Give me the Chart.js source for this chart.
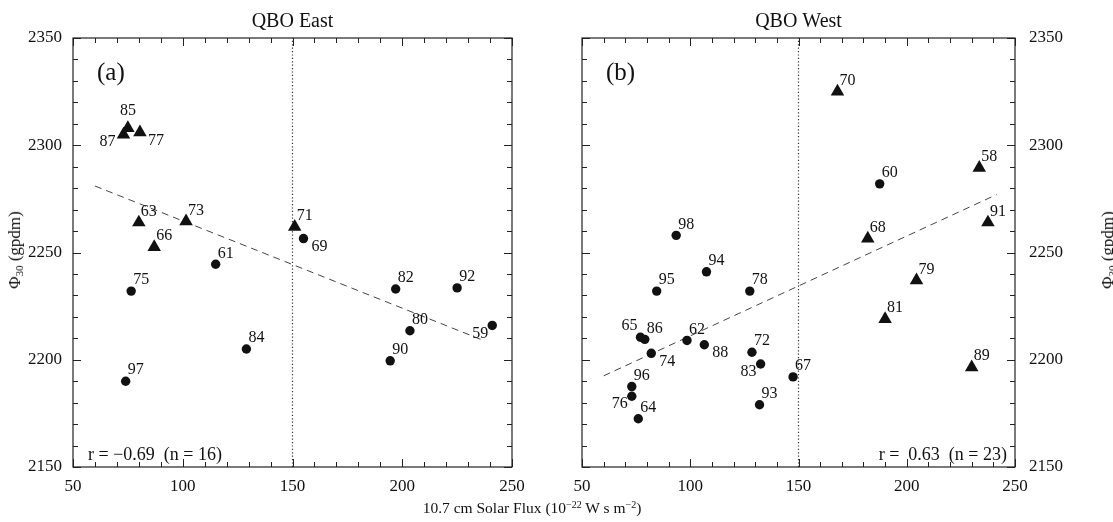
<!DOCTYPE html>
<html>
<head>
<meta charset="utf-8">
<script src="https://cdn.jsdelivr.net/npm/chart.js@4.4.1/dist/chart.umd.min.js"></script>
<style>
  html, body { margin:0; padding:0; background:#fff; }
  body { width:1113px; height:522px; position:relative; overflow:hidden; font-family:"Liberation Serif", "DejaVu Serif", serif; color:#111; }
  canvas { position:absolute; top:0; }
  .ytitle { position:absolute; font-size:17px; white-space:nowrap; transform:translate(-50%,-50%) rotate(-90deg); }
  .ytitle sub { font-size:11px; vertical-align:-3px; }
  .xtitle { position:absolute; left:532px; top:508px; font-size:15.5px; white-space:nowrap; transform:translate(-50%,-50%); }
  .xtitle sup { font-size:10px; vertical-align:5px; }
</style>
</head>
<body>
<canvas id="east" width="560" height="522" style="left:0px"></canvas>
<canvas id="west" width="553" height="522" style="left:560px"></canvas>
<div class="ytitle" style="left:15px; top:250px;">Φ<sub>30</sub> (gpdm)</div>
<div class="ytitle" style="left:1108px; top:250px;">Φ<sub>30</sub> (gpdm)</div>
<div class="xtitle">10.7 cm Solar Flux (10<sup>−22</sup> W s m<sup>−2</sup>)</div>
<script>
// ---------- DATA ----------
const xTicks = [50, 100, 150, 200, 250];
const yTicks = [2150, 2200, 2250, 2300, 2350];
const fluxDivider = 150;

// Panel (a) QBO East
const eastYears  = ['85','87','77','63','73','66','71','69','61','75','84','97','82','92','80','59','90'];
const eastFlux   = [75, 73, 80.5, 80, 101.5, 87, 151, 155, 115, 76.5, 129, 74, 197, 225, 203.5, 241, 194.5];
const eastPhi    = [2308, 2305, 2306, 2264, 2264.5, 2252.5, 2262, 2256.5, 2244.5, 2232, 2205, 2190, 2233, 2233.5, 2213.5, 2216, 2199.5];
const eastMarker = ['tri','tri','tri','tri','tri','tri','tri','dot','dot','dot','dot','dot','dot','dot','dot','dot','dot'];
const eastLabelAt= ['n','w','se','ne','ne','ne','ne','se','ne','ne','ne','ne','ne','ne','ne','sw','ne'];
const eastFitX   = [60, 237];
const eastFitY   = [2281, 2209];
const eastStat   = 'r = −0.69  (n = 16)';

// Panel (b) QBO West
const westYears  = ['70','58','60','91','68','98','94','95','78','79','81','65','86','62','88','74','72','83','67','89','96','76','93','64'];
const westFlux   = [168, 233.5, 187.5, 237.5, 182, 93.5, 107.5, 84.5, 127.5, 204.5, 190, 77, 79, 98.5, 106.5, 82, 128.5, 132.5, 147.5, 230, 73, 73, 132, 76];
const westPhi    = [2325, 2289.5, 2282, 2264, 2256.5, 2258, 2241, 2232, 2232, 2237, 2219, 2210.5, 2209.5, 2209, 2207, 2203, 2203.5, 2198, 2192, 2196.5, 2187.5, 2183, 2179, 2172.5];
const westMarker = ['tri','tri','dot','tri','tri','dot','dot','dot','dot','tri','tri','dot','dot','dot','dot','dot','dot','dot','dot','tri','dot','dot','dot','dot'];
const westLabelAt= ['ne','ne','ne','ne','ne','ne','ne','ne','ne','ne','ne','nw','ne','ne','se','se','ne','sw','ne','ne','ne','sw','ne','ne'];
const westFitX   = [60, 241.5];
const westFitY   = [2192.5, 2277];
const westStat   = 'r =  0.63  (n = 23)';

// ---------- STYLE ----------
const FONT = '"Liberation Serif", "DejaVu Serif", serif';
const INK = '#111';
const labelOffsets = { ne:[10,-11], n:[0,-17], w:[-16,7], se:[16,8], sw:[-12,8], nw:[-11,-11] };

function points(flux, phi, marker, kind) {
  const out = [];
  for (let i = 0; i < flux.length; i++) if (marker[i] === kind) out.push({x: flux[i], y: phi[i]});
  return out;
}

const panelPlugin = {
  id: 'panelDecor',
  afterDatasetsDraw(chart, args, opts) {
    const ctx = chart.ctx, xs = chart.scales.x, ys = chart.scales.y, a = chart.chartArea;
    ctx.save();
    // frame
    ctx.strokeStyle = '#222';
    ctx.lineWidth = 1.2;
    ctx.strokeRect(a.left, a.top, a.right - a.left, a.bottom - a.top);
    // inward ticks
    ctx.lineWidth = 1;
    ctx.beginPath();
    for (let v = xs.min; v <= xs.max + 0.001; v += 10) {
      const px = Math.round(xs.getPixelForValue(v)) + 0.5;
      const len = (v % 50 === 0) ? 8 : 5;
      ctx.moveTo(px, a.bottom); ctx.lineTo(px, a.bottom - len);
      ctx.moveTo(px, a.top); ctx.lineTo(px, a.top + len);
    }
    for (let v = ys.min; v <= ys.max + 0.001; v += 10) {
      const py = Math.round(ys.getPixelForValue(v)) + 0.5;
      const len = (v % 50 === 0) ? 8 : 5;
      ctx.moveTo(a.left, py); ctx.lineTo(a.left + len, py);
      ctx.moveTo(a.right, py); ctx.lineTo(a.right - len, py);
    }
    ctx.stroke();
    // point labels
    ctx.fillStyle = INK;
    ctx.font = '16px ' + FONT;
    ctx.textAlign = 'center';
    ctx.textBaseline = 'middle';
    for (let i = 0; i < opts.years.length; i++) {
      const o = labelOffsets[opts.labelAt[i]];
      const px = xs.getPixelForValue(opts.flux[i]);
      const py = ys.getPixelForValue(opts.phi[i]);
      ctx.fillText(opts.years[i], px + o[0], py + o[1]);
    }
    // panel letter
    ctx.font = '25px ' + FONT;
    ctx.textAlign = 'left';
    ctx.fillText(opts.letter, a.left + 24, 73);
    // title
    ctx.font = '20px ' + FONT;
    ctx.textAlign = 'center';
    ctx.fillText(opts.title, (a.left + a.right) / 2, 22);
    // statistics
    ctx.font = '18px ' + FONT;
    ctx.textAlign = opts.statAlign;
    const sx = opts.statAlign === 'left' ? a.left + 15 : a.right - 8;
    ctx.fillText(opts.stat, sx, 455);
    ctx.restore();
  }
};

function makeChart(id, cfg) {
  const yPos = cfg.yPos;
  return new Chart(document.getElementById(id), {
    type: 'scatter',
    data: {
      datasets: [
        { data: points(cfg.flux, cfg.phi, cfg.marker, 'tri'), pointStyle: 'triangle', pointRadius: 7.8,
          backgroundColor: INK, borderColor: INK, borderWidth: 0 },
        { data: points(cfg.flux, cfg.phi, cfg.marker, 'dot'), pointStyle: 'circle', pointRadius: 4.7,
          backgroundColor: INK, borderColor: INK, borderWidth: 0 },
        { data: [{x: cfg.fitX[0], y: cfg.fitY[0]}, {x: cfg.fitX[1], y: cfg.fitY[1]}], showLine: true,
          pointRadius: 0, borderColor: '#444', borderWidth: 1, borderDash: [7, 5] },
        { data: [{x: fluxDivider, y: yTicks[0]}, {x: fluxDivider, y: yTicks[yTicks.length - 1]}], showLine: true,
          pointRadius: 0, borderColor: '#333', borderWidth: 1.2, borderDash: [1.2, 2.2] }
      ]
    },
    options: {
      responsive: false, maintainAspectRatio: false, animation: false,
      layout: { padding: cfg.padding },
      plugins: { legend: { display: false }, tooltip: { enabled: false }, panelDecor: cfg },
      scales: {
        x: { type: 'linear', min: xTicks[0], max: xTicks[xTicks.length - 1],
             grid: { display: false }, border: { display: false },
             afterBuildTicks: s => { s.ticks = xTicks.map(v => ({ value: v })); },
             ticks: { padding: 1, color: INK, maxRotation: 0, autoSkip: false, font: { family: FONT, size: 17 },
                      callback: v => String(v) },
             afterFit: s => { s.height = 30; } },
        y: { type: 'linear', position: yPos, min: yTicks[0], max: yTicks[yTicks.length - 1],
             grid: { display: false }, border: { display: false },
             afterBuildTicks: s => { s.ticks = yTicks.map(v => ({ value: v })); },
             ticks: { padding: cfg.yPad, color: INK, autoSkip: false, font: { family: FONT, size: 17 },
                      callback: v => String(v) },
             afterFit: s => { s.width = cfg.yWidth; } }
      }
    },
    plugins: [panelPlugin]
  });
}

makeChart('east', {
  years: eastYears, flux: eastFlux, phi: eastPhi, marker: eastMarker, labelAt: eastLabelAt,
  fitX: eastFitX, fitY: eastFitY, stat: eastStat, statAlign: 'left', letter: '(a)', title: 'QBO East',
  yPos: 'left', yWidth: 73, yPad: 3, padding: { left: 0, right: 48, top: 38, bottom: 25 }
});
makeChart('west', {
  years: westYears, flux: westFlux, phi: westPhi, marker: westMarker, labelAt: westLabelAt,
  fitX: westFitX, fitY: westFitY, stat: westStat, statAlign: 'right', letter: '(b)', title: 'QBO West',
  yPos: 'right', yWidth: 60, yPad: 6, padding: { left: 22, right: 38, top: 38, bottom: 25 }
});
</script>
</body>
</html>
